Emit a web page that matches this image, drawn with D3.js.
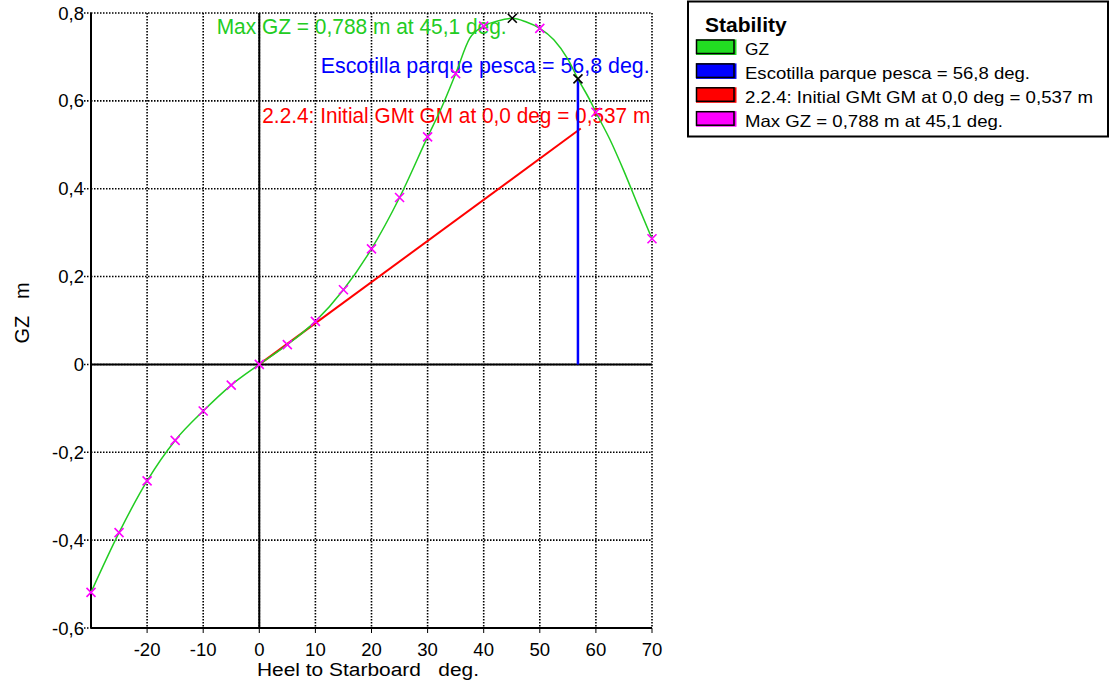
<!DOCTYPE html>
<html>
<head>
<meta charset="utf-8">
<script src="https://cdn.jsdelivr.net/npm/d3@7"></script>
<style>
  body { margin: 0; background: #fff; }
  svg { display: block; font-family: "Liberation Sans", Arial, sans-serif; }
</style>
</head>
<body>
<svg id="chart" width="1113" height="683"></svg>
<script>
// ---- data ----
const curveHeel = [-30,-25,-20,-15,-10,-5,0,5,10,15,20,25,30,32.5,35,37.5,40,42.5,45.1,47.5,50,52.5,55,56.8,59,60,62.5,65,67.5,70];
const curveGZ   = [-0.519,-0.383,-0.265,-0.173,-0.106,-0.047,0,0.045,0.098,0.170,0.263,0.380,0.518,0.585,0.662,0.742,0.770,0.782,0.788,0.780,0.765,0.739,0.695,0.650,0.600,0.574,0.512,0.440,0.362,0.286];
const markHeel  = [-30,-25,-20,-15,-10,-5,0,5,10,15,20,25,30,35,40,50,60,70];
const markGZ    = [-0.519,-0.383,-0.265,-0.173,-0.106,-0.047,0,0.045,0.098,0.170,0.263,0.380,0.518,0.662,0.770,0.765,0.574,0.286];
const maxHeel = 45.1, maxGZ = 0.788;
const floodHeel = 56.8, floodGZ = 0.650;
const gmValue = 0.537, gmHeelAtOneRad = 57.3;
const xTicks = [-20,-10,0,10,20,30,40,50,60,70];
const yTicks = [-0.6,-0.4,-0.2,0,0.2,0.4,0.6,0.8];
const yTickLabels = ["-0,6","-0,4","-0,2","0","0,2","0,4","0,6","0,8"];
const legendTitle = "Stability";
const legendLabels = ["GZ","Escotilla parque pesca = 56,8 deg.","2.2.4: Initial GMt GM at 0,0 deg = 0,537 m","Max GZ = 0,788 m at 45,1 deg."];
const legendColors = ["#22dd22","#0000ff","#ff0000","#ff00ff"];
const legendWidths = [24,285,348,258];
const annoTexts = ["Max GZ = 0,788 m at 45,1 deg.","Escotilla parque pesca = 56,8 deg.","2.2.4: Initial GMt GM at 0,0 deg = 0,537 m"];
const annoColors = ["#22cc22","#0000ff","#ff0000"];

// ---- layout ----
const svg = d3.select("#chart");
const x = d3.scaleLinear().domain([-30,70]).range([91,652]);
const y = d3.scaleLinear().domain([-0.6,0.8]).range([628,13]);

function stretch(sel, factor) {
  sel.each(function() {
    const w = this.getComputedTextLength();
    d3.select(this).attr("textLength", w*factor).attr("lengthAdjust","spacingAndGlyphs");
  });
}
function fitWidth(sel, width) {
  sel.attr("textLength", width).attr("lengthAdjust","spacingAndGlyphs");
}

// grid
const g = svg.append("g");
const dotW = 1.6, dotA = "1.5,1.5";
g.selectAll(".vg").data(xTicks).join("line")
  .attr("x1", d=>x(d)).attr("x2", d=>x(d)).attr("y1", y(0.8)).attr("y2", y(-0.6))
  .attr("stroke","#000").attr("stroke-width",dotW).attr("stroke-dasharray",dotA);
g.selectAll(".hg").data(yTicks.filter(d=>d>-0.6)).join("line")
  .attr("x1", x(-30)).attr("x2", x(70)).attr("y1", d=>y(d)).attr("y2", d=>y(d))
  .attr("stroke","#000").attr("stroke-width",dotW).attr("stroke-dasharray",dotA);

// left axis ticks (dotted short)
g.selectAll(".yt").data(yTicks).join("line")
  .attr("x1", x(-30)-7).attr("x2", x(-30)).attr("y1", d=>y(d)).attr("y2", d=>y(d))
  .attr("stroke","#000").attr("stroke-width",dotW).attr("stroke-dasharray",dotA);
// bottom ticks
g.selectAll(".xt").data(xTicks).join("line")
  .attr("x1", d=>x(d)).attr("x2", d=>x(d)).attr("y1", y(-0.6)).attr("y2", y(-0.6)+5)
  .attr("stroke","#000").attr("stroke-width",1);

// solid axes
g.append("line").attr("x1",x(-30)).attr("x2",x(-30)).attr("y1",y(0.8)).attr("y2",y(-0.6)).attr("stroke","#000").attr("stroke-width",2);
g.append("line").attr("x1",x(-30)).attr("x2",x(70)).attr("y1",y(-0.6)).attr("y2",y(-0.6)).attr("stroke","#000").attr("stroke-width",2);
g.append("line").attr("x1",x(0)).attr("x2",x(0)).attr("y1",y(0.8)).attr("y2",y(-0.6)).attr("stroke","#000").attr("stroke-width",2);
g.append("line").attr("x1",x(-30)).attr("x2",x(70)).attr("y1",y(0)).attr("y2",y(0)).attr("stroke","#000").attr("stroke-width",2);

// tick labels
const xl = svg.append("g").selectAll("text").data(xTicks).join("text")
  .attr("x", d=>x(d)).attr("y", 656).attr("text-anchor","middle")
  .attr("font-size",17.5).attr("fill","#000").text(d=>d);
stretch(xl, 1.06);
const yl = svg.append("g").selectAll("text").data(yTicks).join("text")
  .attr("x", 84).attr("y", d=>y(d)+6.5).attr("text-anchor","end")
  .attr("font-size",17.5).attr("fill","#000").text((d,i)=>yTickLabels[i]);
stretch(yl, 1.06);

// axis titles
const xt = svg.append("text").attr("x",368).attr("y",676).attr("text-anchor","middle")
  .attr("font-size",18).attr("fill","#000").attr("xml:space","preserve").text("Heel to Starboard   deg.");
fitWidth(xt, 222);
svg.append("text").attr("transform","translate(29,313) rotate(-90)").attr("text-anchor","middle")
  .attr("font-size",20).attr("fill","#000").attr("xml:space","preserve").text("GZ   m");

// annotation texts
const annoX = [216.7, 320.7, 262.3], annoY = [34, 73, 123], annoW = [290, 329, 388];
annoTexts.forEach((t,i)=>{
  const tx = svg.append("text").attr("x",annoX[i]).attr("y",annoY[i]).attr("font-size",22)
    .attr("fill",annoColors[i]).text(t);
  fitWidth(tx, annoW[i]);
});

// red GM line
svg.append("line").attr("x1",x(0)).attr("y1",y(0)).attr("x2",x(gmHeelAtOneRad)).attr("y2",y(gmValue))
  .attr("stroke","#ff0000").attr("stroke-width",2);

// blue downflooding line
svg.append("line").attr("x1",x(floodHeel)).attr("y1",y(0)).attr("x2",x(floodHeel)).attr("y2",y(floodGZ))
  .attr("stroke","#0000ff").attr("stroke-width",2.5);

// GZ curve
const pts = curveHeel.map((h,i)=>[h,curveGZ[i]]);
svg.append("path").datum(pts)
  .attr("d", d3.line().x(d=>x(d[0])).y(d=>y(d[1])).curve(d3.curveMonotoneX))
  .attr("fill","none").attr("stroke","#22cc22").attr("stroke-width",1.5);

// markers
function cross(cx, cy, color) {
  const s = 4.5;
  svg.append("path").attr("d",`M${cx-s},${cy-s}L${cx+s},${cy+s}M${cx-s},${cy+s}L${cx+s},${cy-s}`)
    .attr("stroke",color).attr("stroke-width",1.6).attr("fill","none");
}
markHeel.forEach((h,i)=>cross(x(h), y(markGZ[i]), "#ff00ff"));
cross(x(maxHeel), y(maxGZ), "#000");
cross(x(floodHeel), y(floodGZ), "#000");

// legend
const lg = svg.append("g");
lg.append("rect").attr("x",688).attr("y",1.5).attr("width",420).attr("height",135)
  .attr("fill","#fff").attr("stroke","#000").attr("stroke-width",2);
lg.append("text").attr("x",705).attr("y",31.5).attr("font-size",21).attr("font-weight","bold").text(legendTitle);
legendLabels.forEach((t,i)=>{
  const base = 55 + i*23.9;
  lg.append("rect").attr("x",696).attr("y",base-15.5).attr("width",40.5).attr("height",15.5).attr("fill",legendColors[i]);
  lg.append("rect").attr("x",696.5).attr("y",base-15).attr("width",37.5).attr("height",13.5)
    .attr("fill","none").attr("stroke","#000").attr("stroke-width",1.5);
  const tx = lg.append("text").attr("x",745).attr("y",base).attr("font-size",16.5).text(t);
  fitWidth(tx, legendWidths[i]);
});
</script>
</body>
</html>
